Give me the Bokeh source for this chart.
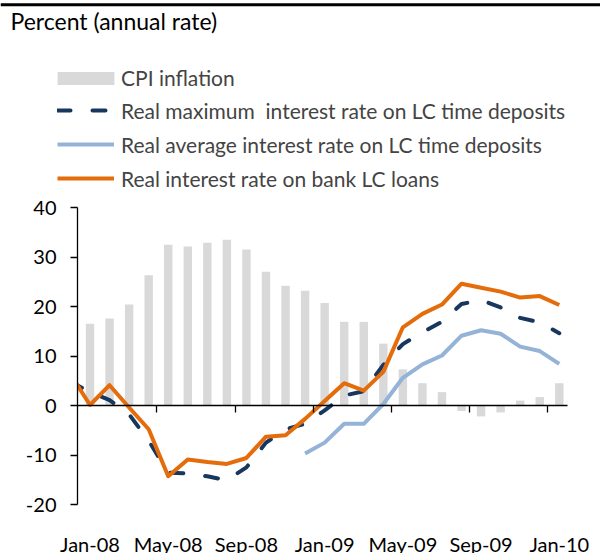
from bokeh.plotting import figure
from bokeh.models import (ColumnDataSource, Range1d, LinearAxis, FixedTicker,
                          Legend, LegendItem, Label, Span, CustomJSTickFormatter)
from bokeh.embed import file_html
from bokeh.resources import INLINE

NAN = float("nan")

# ---------------- data ----------------
months = ["Jan-08", "Feb-08", "Mar-08", "Apr-08", "May-08", "Jun-08", "Jul-08",
          "Aug-08", "Sep-08", "Oct-08", "Nov-08", "Dec-08", "Jan-09", "Feb-09",
          "Mar-09", "Apr-09", "May-09", "Jun-09", "Jul-09", "Aug-09", "Sep-09",
          "Oct-09", "Nov-09", "Dec-09", "Jan-10"]

cpi_inflation = [16.5, 17.6, 20.4, 26.3, 32.5, 32.1, 32.9, 33.5, 31.5, 27.0,
                 24.2, 23.2, 20.7, 16.9, 16.9, 12.5, 7.3, 4.5, 2.7, -1.1,
                 -2.2, -1.4, 1.0, 1.7, 4.5]

# line series start one month earlier (Dec-07); that part is hidden left of the axis
line_months = ["Dec-07"] + months

real_max_deposit = [4.8, 2.7, 1.1, -1.8, -7.1, -13.6, -13.7, -14.3, -15.1, -12.5,
                    -7.5, -4.8, -3.7, -1.0, 2.0, 2.9, 8.2, 12.4, 14.8, 16.9,
                    20.5, 21.3, 19.8, 17.7, 16.8, 14.6]

real_avg_deposit = [NAN, NAN, NAN, NAN, NAN, NAN, NAN, NAN, NAN, NAN, NAN, NAN,
                    -9.7, -7.5, -3.7, -3.7, 0.3, 5.6, 8.3, 10.1, 14.1, 15.2,
                    14.5, 11.9, 11.0, 8.4]

real_loans = [6.3, 0.1, 4.1, -0.4, -4.8, -14.3, -10.9, -11.4, -11.8, -10.6,
              -6.3, -6.0, -2.7, 0.9, 4.5, 3.0, 6.8, 15.8, 18.5, 20.4, 24.6,
              23.8, 23.0, 21.8, 22.1, 20.3]

tick_label_months = ["Jan-08", "May-08", "Sep-08", "Jan-09", "May-09", "Sep-09", "Jan-10"]
y_ticks = [-20, -10, 0, 10, 20, 30, 40]

title_text = "Percent (annual rate)"
labels = ["CPI inflation",
          "Real maximum  interest rate on LC time deposits",
          "Real average interest rate on LC time deposits",
          "Real interest rate on bank LC loans"]

# ---------------- geometry / styling ----------------
W, H = 600, 553
AX_LEFT_PX, AX_RIGHT_PX = 77, 567       # plot area (pixels)
AX_TOP_PX, AX_BOTTOM_PX = 207, 504
X0, X1 = -0.64, len(months) - 0.58      # plot area in category units
Y0, Y1 = y_ticks[0], y_ticks[-1]
px_x = (AX_RIGHT_PX - AX_LEFT_PX) / (X1 - X0)
px_y = (AX_BOTTOM_PX - AX_TOP_PX) / (Y1 - Y0)

FONT = "Lato"
FS_TICK = "20px"
FS_LEG = "21px"
FS_TITLE = "23px"
C_BAR = "#D9D9D9"
C_NAVY = "#17375E"
C_BLUE = "#95B3D7"
C_ORANGE = "#E46C0A"

bar_x = list(range(len(months)))
line_x = [i - 1 for i in range(len(line_months))]

bar_src = ColumnDataSource(dict(x=bar_x, cpi=cpi_inflation))
line_src = ColumnDataSource(dict(x=line_x, mx=real_max_deposit,
                                 avg=real_avg_deposit, loans=real_loans))

p = figure(width=W, height=H, output_backend="svg", toolbar_location=None,
           x_range=Range1d(X0 - AX_LEFT_PX / px_x, X1 + (W - AX_RIGHT_PX) / px_x),
           y_range=Range1d(Y0 - (H - AX_BOTTOM_PX) / px_y, Y1 + AX_TOP_PX / px_y),
           x_axis_location=None, y_axis_location=None, min_border=0)
p.outline_line_color = None
p.grid.grid_line_color = None

bars = p.vbar(x="x", top="cpi", bottom=0, width=0.43, source=bar_src,
              fill_color=C_BAR, line_color=None)
r_avg = p.line("x", "avg", source=line_src, line_color=C_BLUE, line_width=4,
               line_join="round")
r_max = p.line("x", "mx", source=line_src, line_color=C_NAVY, line_width=4,
               line_dash="13 22", line_cap="round", line_join="round")
r_loan = p.line("x", "loans", source=line_src, line_color=C_ORANGE, line_width=4,
                line_join="round")
# plot-area clipping on the left of the value axis
p.quad(left=p.x_range.start, right=X0, bottom=Y0, top=Y1,
       fill_color="white", line_color=None)

# heading rule at the very top of the exhibit
p.add_layout(Span(location=Y1 + (AX_TOP_PX - 4.2) / px_y, dimension="width",
                  line_color="black", line_width=3))

# value axis
yax = LinearAxis(fixed_location=X0, bounds=(Y0, Y1),
                 ticker=FixedTicker(ticks=y_ticks, minor_ticks=[]),
                 formatter=CustomJSTickFormatter(code="return tick.toFixed(0)"),
                 axis_line_color="black", axis_line_width=1.3,
                 major_tick_line_color="black", major_tick_line_width=1.3,
                 major_tick_in=0, major_tick_out=7, minor_tick_line_color=None,
                 major_label_text_font=FONT, major_label_text_font_size=FS_TICK,
                 major_label_text_color="black", major_label_standoff=14)
p.add_layout(yax, "left")

# category axis line at y = 0, ticks at boundaries every 4 months
boundary_ticks = [months.index(m) - 0.58 for m in tick_label_months[1:]]
xax = LinearAxis(fixed_location=0, bounds=(X0, X1),
                 ticker=FixedTicker(ticks=boundary_ticks, minor_ticks=[]),
                 axis_line_color="black", axis_line_width=1.3,
                 major_tick_line_color="black", major_tick_line_width=1.3,
                 major_tick_in=0, major_tick_out=7, minor_tick_line_color=None,
                 formatter=CustomJSTickFormatter(code="return ''"))
p.add_layout(xax, "below")

# category labels, "low" position under the plot area
label_ticks = [months.index(m) for m in tick_label_months]
xlab = LinearAxis(fixed_location=Y0,
                  ticker=FixedTicker(ticks=label_ticks, minor_ticks=[]),
                  major_label_overrides={t: m for t, m in zip(label_ticks, tick_label_months)},
                  axis_line_color=None, major_tick_line_color=None,
                  minor_tick_line_color=None, major_tick_in=0, major_tick_out=0,
                  major_label_text_font=FONT, major_label_text_font_size=FS_TICK,
                  major_label_text_color="black", major_label_standoff=27)
p.add_layout(xlab, "below")

# unit title
p.add_layout(Label(x=10, y=H - 20.5, x_units="screen", y_units="screen",
                   text=title_text, text_font=FONT, text_font_size=FS_TITLE,
                   text_color="black", text_baseline="alphabetic"))

# legends (above plot area)
leg1 = Legend(items=[LegendItem(label=labels[0], renderers=[bars])],
              location=(50, H - 90), glyph_width=71, glyph_height=16,
              label_standoff=0, padding=0, margin=0, spacing=0,
              label_text_baseline="alphabetic",
              border_line_color=None, background_fill_alpha=0,
              label_text_font=FONT, label_text_font_size=FS_LEG)
leg2 = Legend(items=[LegendItem(label=labels[1], renderers=[r_max]),
                     LegendItem(label=labels[2], renderers=[r_avg]),
                     LegendItem(label=labels[3], renderers=[r_loan])],
              location=(57, H - 194), glyph_width=57, glyph_height=32,
              label_standoff=7, padding=0, margin=0, spacing=2,
              border_line_color=None, background_fill_alpha=0,
              label_text_font=FONT, label_text_font_size=FS_LEG)
p.add_layout(leg1, "center")
p.add_layout(leg2, "center")

open("out.html", "w").write(file_html(p, INLINE))
